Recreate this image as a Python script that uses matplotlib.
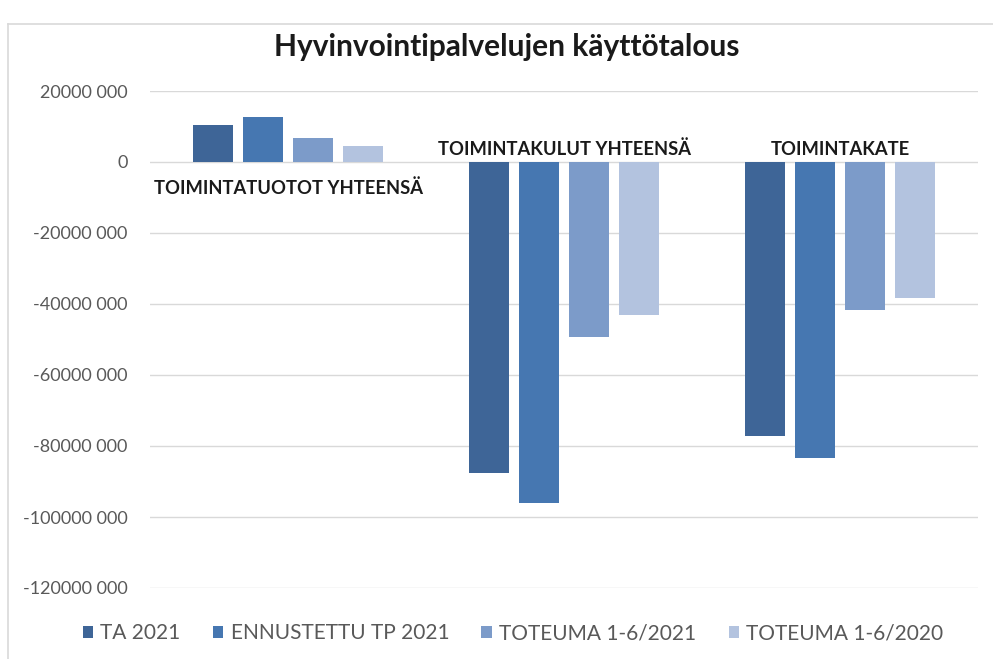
import matplotlib
matplotlib.use("Agg")
import matplotlib.pyplot as plt
from matplotlib.patches import Patch
from matplotlib.lines import Line2D
import numpy as np

plt.rcParams['font.family'] = ['Lato', 'DejaVu Sans']

title = "Hyvinvointipalvelujen käyttötalous"
categories = ["TOIMINTATUOTOT YHTEENSÄ", "TOIMINTAKULUT YHTEENSÄ", "TOIMINTAKATE"]
series_names = ["TA 2021", "ENNUSTETTU TP 2021", "TOTEUMA 1-6/2021", "TOTEUMA 1-6/2020"]
ta_2021 = [10.4e6, -87.5e6, -77.2e6]
ennustettu_tp_2021 = [12.7e6, -96.0e6, -83.3e6]
toteuma_2021 = [6.8e6, -49.2e6, -41.8e6]
toteuma_2020 = [4.4e6, -43.2e6, -38.3e6]
series_values = [ta_2021, ennustettu_tp_2021, toteuma_2021, toteuma_2020]
y_ticks = [-120e6, -100e6, -80e6, -60e6, -40e6, -20e6, 0, 20e6]
y_tick_labels = ["-120000 000", "-100000 000", "-80000 000", "-60000 000",
                 "-40000 000", "-20000 000", "0", "20000 000"]

colors = ["#3E6597", "#4677B1", "#7C9BC9", "#B3C3DF"]

W, H = 993, 659
fig = plt.figure(figsize=(W / 100, H / 100), dpi=100)
fig.patch.set_facecolor("white")

# chart frame (left and top edges visible)
fig.add_artist(Line2D([8 / W, 8 / W], [0, 1 - 24 / H], transform=fig.transFigure,
                      color="#d9d9d9", lw=1.2))
fig.add_artist(Line2D([8 / W, 1], [1 - 24 / H, 1 - 24 / H], transform=fig.transFigure,
                      color="#d9d9d9", lw=1.2))

ax = fig.add_axes([150 / W, 1 - 588 / H, (978 - 150) / W, (588 - 91) / H])
x = np.arange(len(categories))
spacing = 50 / 276
width = 40 / 276
for i, (name, vals) in enumerate(zip(series_names, series_values)):
    ax.bar(x + (i - 1.5) * spacing, vals, width=width, color=colors[i], label=name, zorder=3)

ax.set_xlim(-0.5, len(categories) - 0.5)
ax.set_ylim(y_ticks[0], y_ticks[-1])
ax.set_yticks(y_ticks)
ax.set_yticklabels(y_tick_labels)
ax.set_xticks([])
ax.tick_params(axis='y', length=0, pad=16, labelsize=13, labelcolor="#595959")
for s in ax.spines.values():
    s.set_visible(False)
ax.grid(axis='y', color="#d9d9d9", lw=1, zorder=0)
ax.set_axisbelow(True)

# category labels near the zero line
for xi, cat, v in zip(x, categories, ta_2021):
    if v >= 0:
        ax.annotate(cat, (xi, 0), xytext=(0, -19), textcoords="offset points",
                    ha="center", va="center", fontsize=13.2, fontweight="bold", color="#1a1a1a")
    else:
        ax.annotate(cat, (xi, 0), xytext=(0, 9), textcoords="offset points",
                    ha="center", va="center", fontsize=13.2, fontweight="bold", color="#1a1a1a")

fig.text(507 / W, 1 - 47 / H, title, ha="center", va="center", fontsize=21.5,
         fontweight="bold", color="#1a1a1a")

handles = [Patch(facecolor=c, edgecolor="none") for c in colors]
fig.legend(handles, series_names, loc="center", bbox_to_anchor=(513 / W, 1 - 633 / H),
           ncol=4, frameon=False, fontsize=15, labelcolor="#595959",
           handlelength=0.5, handleheight=0.5, handletextpad=0.35, columnspacing=1.55)

fig.savefig("out.png", dpi=100, facecolor="white")
